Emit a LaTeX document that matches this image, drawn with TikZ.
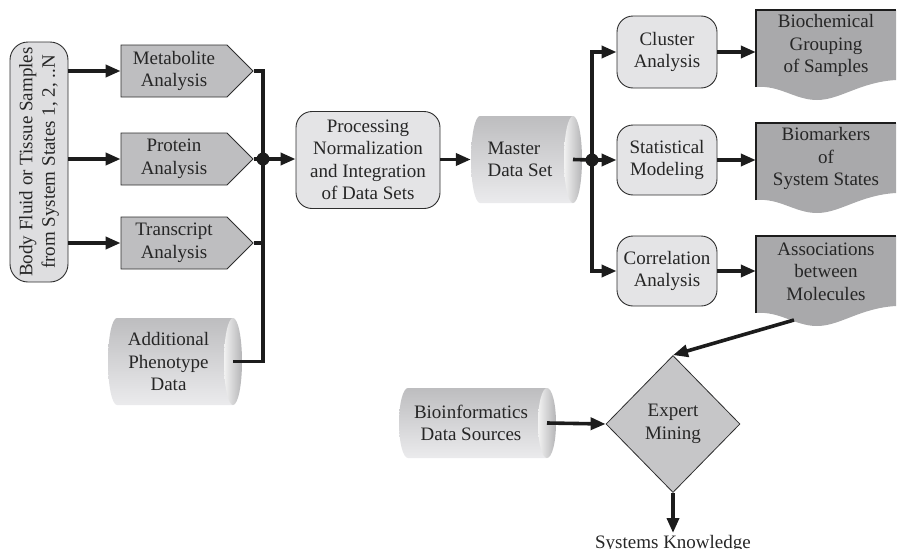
\documentclass[tikz,border=0pt]{standalone}
\usepackage{fontspec}
\setmainfont{Liberation Serif}
\usetikzlibrary{shapes.geometric,shapes.symbols,arrows.meta,calc}

\definecolor{inkc}{HTML}{262626}
\definecolor{wirec}{HTML}{1C1C1C}
\definecolor{edgec}{HTML}{2E2E2E}
\definecolor{boxfill}{HTML}{E4E4E6}
\definecolor{samplefill}{HTML}{DEDEE0}
\definecolor{sigfill}{HTML}{BEBEC0}
\definecolor{docfill}{HTML}{A9A9AB}
\definecolor{diafill}{HTML}{C6C6C8}
\definecolor{drumtop}{HTML}{BDBDBF}
\definecolor{drumbot}{HTML}{EBEBED}
\definecolor{endl}{HTML}{F2F2F2}
\definecolor{endr}{HTML}{B4B4B6}

\tikzset{
  wire/.style={line width=3.6pt, draw=wirec},
  arr/.style={wire, -{Triangle[length=15pt,width=12pt]}},
  roundbox/.style={draw=edgec, line width=0.9pt, fill=boxfill, rounded corners=16pt,
    align=center, inner sep=0pt},
  samplebox/.style={draw=edgec, line width=0.9pt, fill=samplefill, rounded corners=18pt},
  sigbox/.style={signal, signal to=east, signal pointer angle=90, draw=edgec,
    line width=0.8pt, fill=sigfill, minimum width=132pt, minimum height=52pt,
    inner sep=2pt, align=center},
  docedge/.style={draw=wirec, line width=2.2pt},
  dot/.style={fill=wirec},
}

% horizontal drum: name, left x, top y, right x, bottom y, text alignment, text
\newcommand{\drum}[7]{%
  \pgfmathsetmacro\dxa{#2+9}%
  \pgfmathsetmacro\dxb{#4-9}%
  \pgfmathsetmacro\dyc{(#3+#5)/2}%
  \pgfmathsetmacro\dry{(#5-#3)/2}%
  \pgfmathsetmacro\dxc{(#2+#4-9)/2-2}%
  \pgfmathsetmacro\dxm{(#2+#4)/2}%
  \pgfmathsetmacro\dw{#4-#2}%
  \pgfmathsetmacro\dh{#5-#3}%
  \shade[top color=drumtop, bottom color=drumbot]
    (\dxa,#3) -- (\dxb,#3) -- (\dxb,#5) -- (\dxa,#5)
    arc[start angle=270, end angle=90, x radius=9pt, y radius=\dry pt] -- cycle;
  \shade[left color=endl, right color=endr]
    (\dxb,\dyc) ellipse[x radius=9pt, y radius=\dry pt];
  \node[minimum width=\dw pt, minimum height=\dh pt, inner sep=0pt] (#1) at (\dxm,\dyc) {};
  \node[align=#6, text=inkc] (#1-text) at (\dxc,\dyc) {#7};
  \coordinate (#1-out) at (\dxb,\dyc);
}

% document sheet with wavy lower edge: name, top y, bottom-left y, text
\newcommand{\docu}[4]{%
  \pgfmathsetmacro\dth{#3-#2}%
  \pgfmathsetmacro\dtm{(#2+#3)/2-3}%
  \fill[docfill] (756,#2) -- (896,#2) -- (896,{#3-7})
    .. controls (860,{#3-5}) and (840,{#3+13}) .. (817,{#3+13})
    .. controls (795,{#3+13}) and (780,{#3-2}) .. (756,#3) -- cycle;
  \draw[docedge] (756,#3) -- (756,#2) -- (896,#2);
  \node[minimum width=140pt, minimum height=\dth pt, inner sep=0pt, align=center,
    text=inkc] (#1) at (826,\dtm) {#4};
}

\begin{document}
\begin{tikzpicture}[x=1pt, y=-1pt, font=\fontsize{19}{22.5}\selectfont, text=inkc]
\useasboundingbox (0,0) rectangle (900,549);

% sample input
\node[samplebox, minimum width=58pt, minimum height=240pt] (samples) at (39,162) {};
\node[rotate=90, align=center, inner sep=0pt] (samples-text) at (39,162)
  {Body Fluid or Tissue Samples\\from System States 1, 2, ..N};

% measurement platforms
\node[sigbox] (metab) at (174,71) {Metabolite\\Analysis};
\node[sigbox] (prot) at (174,159) {Protein\\Analysis};
\node[sigbox] (trans) at (174,243) {Transcript\\Analysis};
\drum{pheno}{108}{318}{242}{405}{center}{Additional\\Phenotype\\Data}

% processing and master data
\node[roundbox, minimum width=144pt, minimum height=97pt] (proc) at (368,160)
  {Processing\\Normalization\\and Integration\\of Data Sets};
\drum{master}{471}{116}{582}{203}{left}{Master\\Data Set}

% analyses
\node[roundbox, minimum width=100pt, minimum height=72pt] (cluster) at (667,52) {Cluster\\Analysis};
\node[roundbox, minimum width=100pt, minimum height=70pt] (stat) at (667,160) {Statistical\\Modeling};
\node[roundbox, minimum width=100pt, minimum height=70pt] (corr) at (667,271) {Correlation\\Analysis};

% results
\docu{doc1}{10}{87}{Biochemical\\Grouping\\of Samples}
\docu{doc2}{123}{200}{Biomarkers\\of\\System States}
\docu{doc3}{236}{313}{Associations\\between\\Molecules}

% expert mining
\drum{bioinf}{399}{388}{556}{458}{center}{Bioinformatics\\Data Sources}
\node[diamond, draw=edgec, line width=0.8pt, fill=diafill, minimum width=134pt,
  minimum height=137pt, inner sep=0pt, align=center] (expert) at (673,424) {Expert\\Mining};
\node[anchor=base, inner sep=0pt] (knowledge) at (673,548) {Systems Knowledge};

% junctions
\coordinate (jl) at (263,159);
\coordinate (jr) at (592,160);
\coordinate (doc3-tail) at (794,320);
\coordinate (knowledge-in) at (673,533);

% connectors: samples to platforms
\draw[arr] (samples.east |- metab.west) -- (metab.west);
\draw[arr] (samples.east |- prot.west) -- (prot.west);
\draw[arr] (samples.east |- trans.west) -- (trans.west);

% left collector bus
\draw[wire] (metab.east) -- (metab.east -| jl) -- (pheno-out -| jl) -- (pheno-out);
\draw[wire] (prot.east) -- (jl);
\draw[wire] (trans.east) -- (trans.east -| jl);
\fill[dot] (jl) circle[radius=6.5pt];
\draw[arr] (jl) -- (proc.west |- jl);

\draw[arr] (proc.east |- master) -- (master.west);

% right distribution bus
\draw[wire] (master-out) -- (jr);
\draw[arr] (jr) |- (cluster.west);
\draw[arr] (jr) -- (stat.west |- jr);
\draw[arr] (jr) |- (corr.west);
\fill[dot] (jr) circle[radius=6.5pt];

\draw[arr] (cluster.east) -- (cluster.east -| doc1.west);
\draw[arr] (stat.east) -- (stat.east -| doc2.west);
\draw[arr] (corr.east) -- (corr.east -| doc3.west);

% expert mining
\draw[arr] (doc3-tail) -- (expert.north);
\draw[arr] (bioinf-out) -- (expert.west);
\draw[arr] (expert.south) -- (knowledge-in);
\end{tikzpicture}
\end{document}
